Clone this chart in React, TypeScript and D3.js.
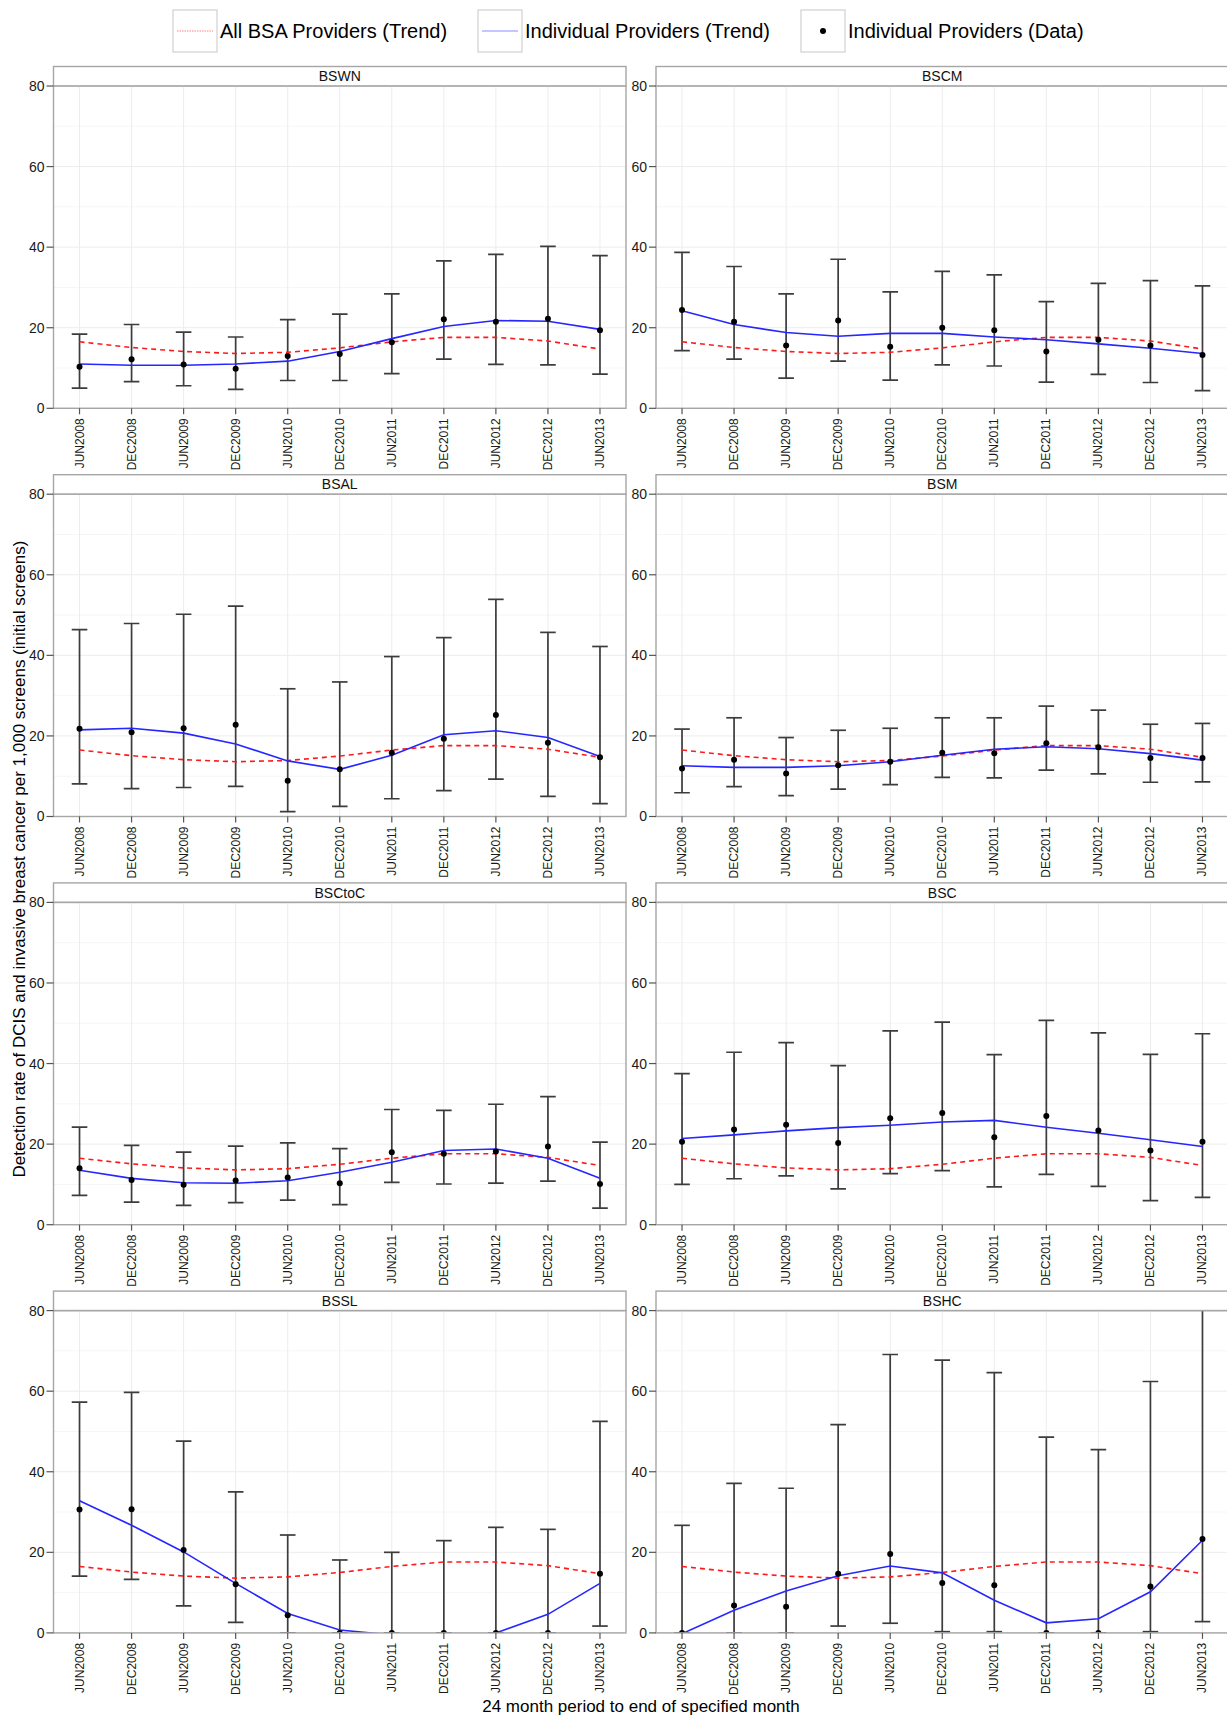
import React, { useEffect, useRef } from 'react';
import * as d3 from 'd3';

// 24 month periods (x categories)
const periods = ['JUN2008', 'DEC2008', 'JUN2009', 'DEC2009', 'JUN2010', 'DEC2010', 'JUN2011', 'DEC2011', 'JUN2012', 'DEC2012', 'JUN2013'];
const yTicks = [0, 20, 40, 60, 80];
const yMinorTicks = [10, 30, 50, 70];

// All BSA providers trend (same in every panel)
const allTrend = [16.5, 15.1, 14.1, 13.6, 13.9, 15.0, 16.5, 17.6, 17.6, 16.7, 14.7];

const bswnRate = [10.3, 12.2, 10.9, 9.8, 13.0, 13.5, 16.4, 22.1, 21.5, 22.2, 19.4];
const bswnLower = [5.0, 6.6, 5.6, 4.7, 6.9, 6.9, 8.6, 12.2, 10.9, 10.8, 8.5];
const bswnUpper = [18.4, 20.8, 18.9, 17.7, 22.0, 23.4, 28.4, 36.6, 38.2, 40.2, 37.9];
const bswnTrend = [11.0, 10.7, 10.7, 11.0, 11.7, 14.1, 17.3, 20.3, 21.8, 21.6, 19.6];

const bscmRate = [24.4, 21.5, 15.6, 21.8, 15.3, 20.0, 19.4, 14.1, 17.0, 15.6, 13.2];
const bscmLower = [14.3, 12.2, 7.5, 11.7, 7.0, 10.8, 10.5, 6.5, 8.4, 6.4, 4.4];
const bscmUpper = [38.7, 35.2, 28.4, 37.0, 28.9, 34.0, 33.1, 26.5, 31.0, 31.7, 30.4];
const bscmTrend = [24.2, 20.8, 18.8, 17.9, 18.6, 18.6, 17.7, 17.0, 16.0, 14.9, 13.6];

const bsalRate = [21.8, 20.9, 21.9, 22.8, 8.9, 11.7, 15.8, 19.3, 25.2, 18.3, 14.7];
const bsalLower = [8.1, 6.9, 7.2, 7.5, 1.2, 2.5, 4.4, 6.4, 9.3, 5.0, 3.2];
const bsalUpper = [46.4, 47.9, 50.2, 52.2, 31.7, 33.4, 39.7, 44.4, 53.9, 45.7, 42.2];
const bsalTrend = [21.5, 21.9, 20.7, 18.0, 13.8, 11.7, 15.2, 20.3, 21.3, 19.6, 14.9];

const bsmRate = [11.9, 14.1, 10.7, 12.7, 13.6, 15.8, 15.7, 18.2, 17.2, 14.5, 14.5];
const bsmLower = [5.9, 7.4, 5.2, 6.8, 7.9, 9.7, 9.6, 11.5, 10.6, 8.5, 8.6];
const bsmUpper = [21.7, 24.5, 19.6, 21.4, 21.9, 24.5, 24.5, 27.4, 26.4, 22.9, 23.1];
const bsmTrend = [12.6, 12.2, 12.2, 12.6, 13.6, 15.2, 16.7, 17.3, 16.8, 15.6, 14.0];

const bsctocRate = [14.0, 11.1, 9.9, 11.0, 11.7, 10.3, 18.0, 17.6, 18.2, 19.4, 10.1];
const bsctocLower = [7.3, 5.6, 4.8, 5.5, 6.1, 5.0, 10.5, 10.1, 10.3, 10.8, 4.1];
const bsctocUpper = [24.2, 19.7, 18.0, 19.5, 20.3, 18.9, 28.6, 28.4, 29.9, 31.8, 20.5];
const bsctocTrend = [13.5, 11.5, 10.4, 10.3, 10.9, 13.0, 15.5, 18.4, 18.8, 16.5, 11.5];

const bscRate = [20.6, 23.6, 24.8, 20.3, 26.4, 27.7, 21.7, 27.0, 23.4, 18.4, 20.6];
const bscLower = [10.0, 11.4, 12.1, 8.9, 12.7, 13.4, 9.4, 12.5, 9.5, 6.0, 6.8];
const bscUpper = [37.5, 42.8, 45.2, 39.5, 48.1, 50.3, 42.2, 50.7, 47.6, 42.3, 47.4];
const bscTrend = [21.4, 22.3, 23.3, 24.1, 24.7, 25.5, 25.9, 24.2, 22.7, 21.1, 19.4];

const bsslRate = [30.6, 30.7, 20.6, 12.1, 4.4, 0, 0, 0, 0, 0, 14.7];
const bsslLower = [14.1, 13.3, 6.7, 2.6, 0, 0, 0, 0, 0, 0, 1.7];
const bsslUpper = [57.3, 59.7, 47.6, 35.0, 24.3, 18.1, 20.0, 22.9, 26.2, 25.7, 52.5];
const bsslTrend = [32.8, 26.7, 20.1, 12.3, 4.8, 0.7, -0.5, -1.5, 0, 4.6, 12.3];

const bshcRate = [0, 6.8, 6.5, 14.7, 19.6, 12.4, 11.8, 0, 0, 11.5, 23.3];
const bshcLower = [0, 0, 0, 1.7, 2.4, 0.3, 0.3, 0, 0, 0.3, 2.8];
const bshcUpper = [26.7, 37.1, 35.9, 51.7, 69.1, 67.7, 64.6, 48.6, 45.5, 62.4, 85];
const bshcTrend = [-0.2, 5.6, 10.4, 14.2, 16.6, 14.9, 8.1, 2.5, 3.5, 10.2, 23.0];

const providers = [
  { name: 'BSWN', rate: bswnRate, lower: bswnLower, upper: bswnUpper, trend: bswnTrend },
  { name: 'BSCM', rate: bscmRate, lower: bscmLower, upper: bscmUpper, trend: bscmTrend },
  { name: 'BSAL', rate: bsalRate, lower: bsalLower, upper: bsalUpper, trend: bsalTrend },
  { name: 'BSM', rate: bsmRate, lower: bsmLower, upper: bsmUpper, trend: bsmTrend },
  { name: 'BSCtoC', rate: bsctocRate, lower: bsctocLower, upper: bsctocUpper, trend: bsctocTrend },
  { name: 'BSC', rate: bscRate, lower: bscLower, upper: bscUpper, trend: bscTrend },
  { name: 'BSSL', rate: bsslRate, lower: bsslLower, upper: bsslUpper, trend: bsslTrend },
  { name: 'BSHC', rate: bshcRate, lower: bshcLower, upper: bshcUpper, trend: bshcTrend },
];

const legendItems = [
  { label: 'All BSA Providers (Trend)', kind: 'red', x: 173 },
  { label: 'Individual Providers (Trend)', kind: 'blue', x: 478 },
  { label: 'Individual Providers (Data)', kind: 'dot', x: 801 },
];

const FONT = '"Liberation Sans", Arial, Helvetica, sans-serif';

function App() {
  const svgRef = useRef<SVGSVGElement>(null);

  useEffect(() => {
    document.body.style.margin = '0';
    const width = 1227;
    const height = 1718;
    const colLeft = [53.5, 656];
    const rowTop = [86, 494.2, 902.4, 1310.6];
    const panelW = 572.5;
    const panelH = 322.3;
    const stripH = 19.5;

    const svg = d3.select(svgRef.current)
      .attr('width', width)
      .attr('height', height);
    svg.selectAll('*').remove();

    svg.append('rect').attr('width', width).attr('height', height).attr('fill', '#fff');

    const x = d3.scalePoint<string>().domain(periods).range([0, panelW]).padding(0.5);
    const y = d3.scaleLinear().domain([0, 80]).range([panelH, 0]);

    const defs = svg.append('defs');
    defs.append('clipPath').attr('id', 'panel-clip')
      .append('rect').attr('x', 0).attr('y', 0).attr('width', panelW).attr('height', panelH);

    providers.forEach((p, i) => {
      const col = i % 2;
      const row = Math.floor(i / 2);
      const g = svg.append('g')
        .attr('transform', `translate(${colLeft[col]},${rowTop[row]})`);

      // strip
      g.append('rect')
        .attr('x', 0).attr('y', -stripH)
        .attr('width', panelW).attr('height', stripH)
        .attr('fill', '#fff').attr('stroke', '#a6a6a6').attr('stroke-width', 1.4);
      g.append('text')
        .attr('x', panelW / 2).attr('y', -stripH / 2)
        .attr('text-anchor', 'middle').attr('dominant-baseline', 'central')
        .attr('font-family', FONT).attr('font-size', '14px').attr('fill', '#111')
        .text(p.name);

      // grid
      g.selectAll('.minor').data(yMinorTicks).enter().append('line')
        .attr('x1', 0).attr('x2', panelW)
        .attr('y1', d => y(d)).attr('y2', d => y(d))
        .attr('stroke', '#f6f6f6').attr('stroke-width', 1);
      g.selectAll('.major').data(yTicks).enter().append('line')
        .attr('x1', 0).attr('x2', panelW)
        .attr('y1', d => y(d)).attr('y2', d => y(d))
        .attr('stroke', '#ececec').attr('stroke-width', 1);
      g.selectAll('.vgrid').data(periods).enter().append('line')
        .attr('x1', d => x(d)!).attr('x2', d => x(d)!)
        .attr('y1', 0).attr('y2', panelH)
        .attr('stroke', '#ececec').attr('stroke-width', 1);

      const plot = g.append('g').attr('clip-path', 'url(#panel-clip)');
      const idx = periods.map((_, k) => k);

      // error bars
      const eb = plot.selectAll('.eb').data(idx).enter().append('g');
      eb.append('line')
        .attr('x1', k => x(periods[k])!).attr('x2', k => x(periods[k])!)
        .attr('y1', k => y(p.lower[k])).attr('y2', k => y(p.upper[k]))
        .attr('stroke', '#3c3c3c').attr('stroke-width', 1.7);
      eb.append('line')
        .attr('x1', k => x(periods[k])! - 7.8).attr('x2', k => x(periods[k])! + 7.8)
        .attr('y1', k => y(p.lower[k])).attr('y2', k => y(p.lower[k]))
        .attr('stroke', '#3c3c3c').attr('stroke-width', 1.7);
      eb.append('line')
        .attr('x1', k => x(periods[k])! - 7.8).attr('x2', k => x(periods[k])! + 7.8)
        .attr('y1', k => y(p.upper[k])).attr('y2', k => y(p.upper[k]))
        .attr('stroke', '#3c3c3c').attr('stroke-width', 1.7);

      const line = d3.line<number>()
        .x((_, k) => x(periods[k])!)
        .y(d => y(d));

      plot.append('path')
        .attr('d', line(allTrend))
        .attr('fill', 'none').attr('stroke', '#ff1a1a')
        .attr('stroke-width', 1.6).attr('stroke-dasharray', '5,4');

      plot.append('path')
        .attr('d', line(p.trend))
        .attr('fill', 'none').attr('stroke', '#2626ff')
        .attr('stroke-width', 1.6);

      plot.selectAll('.pt').data(idx).enter().append('circle')
        .attr('cx', k => x(periods[k])!).attr('cy', k => y(p.rate[k]))
        .attr('r', 3).attr('fill', '#000');

      // panel border
      g.append('rect')
        .attr('x', 0).attr('y', 0).attr('width', panelW).attr('height', panelH)
        .attr('fill', 'none').attr('stroke', '#a6a6a6').attr('stroke-width', 1.4);

      // y axis
      const ya = g.append('g');
      ya.selectAll('line').data(yTicks).enter().append('line')
        .attr('x1', -7).attr('x2', 0)
        .attr('y1', d => y(d)).attr('y2', d => y(d))
        .attr('stroke', '#555').attr('stroke-width', 1.2);
      ya.selectAll('text').data(yTicks).enter().append('text')
        .attr('x', -9).attr('y', d => y(d))
        .attr('text-anchor', 'end').attr('dominant-baseline', 'central')
        .attr('font-family', FONT).attr('font-size', '14px').attr('fill', '#1a1a1a')
        .text(d => d);

      // x axis
      const xa = g.append('g').attr('transform', `translate(0,${panelH})`);
      xa.selectAll('line').data(periods).enter().append('line')
        .attr('x1', d => x(d)!).attr('x2', d => x(d)!)
        .attr('y1', 0).attr('y2', 6)
        .attr('stroke', '#555').attr('stroke-width', 1.2);
      xa.selectAll('text').data(periods).enter().append('text')
        .attr('transform', d => `translate(${x(d)},10) rotate(-90)`)
        .attr('text-anchor', 'end').attr('dominant-baseline', 'central')
        .attr('font-family', FONT).attr('font-size', '12px').attr('fill', '#1a1a1a')
        .text(d => d);
    });

    // axis titles
    svg.append('text')
      .attr('x', 641).attr('y', 1712)
      .attr('text-anchor', 'middle')
      .attr('font-family', FONT).attr('font-size', '17px').attr('fill', '#000')
      .text('24 month period to end of specified month');

    svg.append('text')
      .attr('transform', 'translate(25,859) rotate(-90)')
      .attr('text-anchor', 'middle')
      .attr('font-family', FONT).attr('font-size', '17px').attr('fill', '#000')
      .text('Detection rate of DCIS and invasive breast cancer per 1,000 screens (initial screens)');

    // legend
    const keyW = 44;
    const keyH = 42;
    const keyY = 10;
    const lg = svg.append('g');
    legendItems.forEach(item => {
      lg.append('rect')
        .attr('x', item.x).attr('y', keyY).attr('width', keyW).attr('height', keyH)
        .attr('fill', '#fff').attr('stroke', '#d0d0d0').attr('stroke-width', 1.2);
      const cx = item.x + keyW / 2;
      const cy = keyY + keyH / 2;
      if (item.kind === 'red') {
        lg.append('line')
          .attr('x1', item.x + 4).attr('x2', item.x + keyW - 4)
          .attr('y1', cy).attr('y2', cy)
          .attr('stroke', '#ff8080').attr('stroke-width', 1).attr('stroke-dasharray', '1.5,1');
      } else if (item.kind === 'blue') {
        lg.append('line')
          .attr('x1', item.x + 4).attr('x2', item.x + keyW - 4)
          .attr('y1', cy).attr('y2', cy)
          .attr('stroke', '#8c8cff').attr('stroke-width', 1.2);
      } else {
        lg.append('circle').attr('cx', cx).attr('cy', cy).attr('r', 3).attr('fill', '#000');
      }
      lg.append('text')
        .attr('x', item.x + keyW + 3).attr('y', cy)
        .attr('dominant-baseline', 'central')
        .attr('font-family', FONT).attr('font-size', '20px').attr('fill', '#000')
        .text(item.label);
    });
  }, []);

  return (
    <div style={{ position: 'absolute', left: 0, top: 0 }}>
      <svg ref={svgRef}></svg>
    </div>
  );
}

export default App;
